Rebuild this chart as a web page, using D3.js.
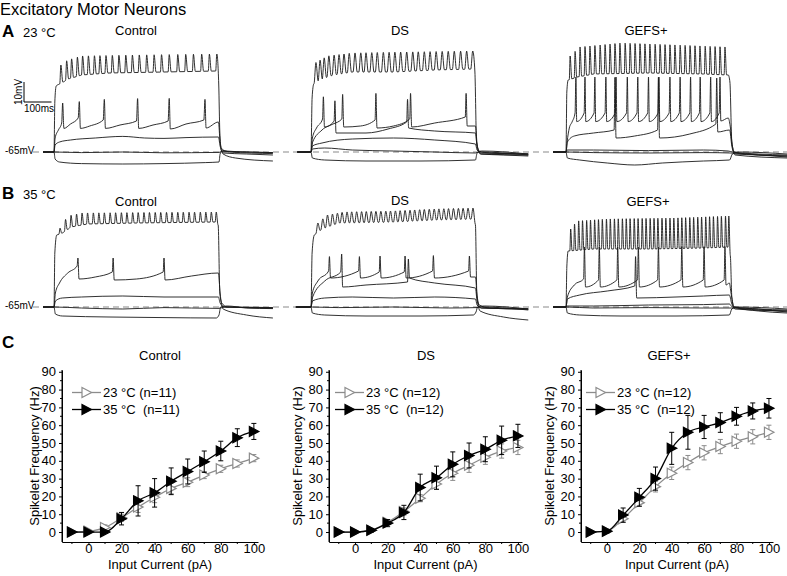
<!DOCTYPE html>
<html><head><meta charset="utf-8">
<script src="https://cdn.jsdelivr.net/npm/d3@7"></script>
<style>
body{margin:0;background:#fff}
svg{display:block}
text{font-family:"Liberation Sans",Arimo,Helvetica,sans-serif;fill:#000}
</style>
</head><body>
<svg id="fig" width="787" height="576"></svg>
<script>
// ================= DATA =================
// Panel C: input current (pA) vs spikelet frequency (Hz)
const currents = [-10,0,10,20,30,40,50,60,70,80,90,100];
const xTickLabels = [0,20,40,60,80,100];
const yTickLabels = [0,10,20,30,40,50,60,70,80,90];
const groupNames = ["Control","DS","GEFS+"];
const legend23 = ["23 °C (n=11)","23 °C (n=12)","23 °C (n=12)"];
const legend35 = ["35 °C\u00a0 (n=11)","35 °C\u00a0 (n=12)","35 °C\u00a0 (n=12)"];

const ctrl23    = [0,0.5,2.5,8,14,19.5,24.5,28,32,35.5,38.5,41.5];
const ctrl23Err = [0,0.8,1.5,2,3,3,3,2.5,2,2,2,2];
const ctrl35    = [0,0,0,7.5,17.5,22,28.5,34,39.5,45.5,53,56.5];
const ctrl35Err = [0,0.5,0.5,3.5,8.5,8,7.5,7,6,5.5,5,4.5];

const ds23    = [0,0,1,5.5,11.5,19,27,33,37.5,42,45.5,47.5];
const ds23Err = [0,0.5,1,1.5,2,2,3,4,4,4,4,4];
const ds35    = [0,0,1,5,11,25,30.5,38,43,46.5,51.5,54];
const ds35Err = [0,0.5,1,2,4,7.5,6.5,7,7,7,8,6.5];

const gefs23    = [0,0.5,7.5,16.5,25.5,33,39,44.5,48,51,53.5,56];
const gefs23Err = [0,1,2,2,3,3.5,4,4,4,4,4,4];
const gefs35    = [0,0.5,9.5,19.5,30,47,56,59,61.5,65,68,69.5];
const gefs35Err = [0,1,4,5,6.5,9,9.5,6.5,5.5,5,4.5,5.5];

// Panels A/B: membrane potential traces, time in ms from current onset, voltage in mV
// dense spike trains: spike times, peak envelope, trough envelope
const aCtrlTrain = {
  spikes:[25,46,64,85,104,125,147,167,189,212,236,261,285,310,337,364,391,419,450,479,507,537,565,592],
  peak:[[20,-22],[50,-19],[100,-17],[300,-16.5],[600,-16]],
  trough:[[-40,-65],[0,-65],[3,-40],[8,-32],[20,-31],[50,-28.5],[100,-26.5],[200,-25.5],[400,-25],[590,-24.5],[598,-25],[603,-55],[608,-63],[625,-64.5],[700,-65],[796,-65.3]],
  w:[4,7]};
const aCtrlTraces = [
  [[-40,-65],[0,-65],[4,-58],[16,-54],[28,-50.5],[31.5,-40.5],[36,-53.2],[60,-51],[88,-48],[92,-39.8],[96,-53.2],[130,-52],[179,-49],[183,-38.7],[187,-53.2],[240,-51.5],[300,-49.5],[304,-38.3],[308,-53.2],[360,-51.5],[415,-49.5],[419,-38.2],[423,-53.5],[480,-51],[545,-49],[549,-38.7],[553,-53],[598,-50],[604,-60],[615,-66],[660,-68],[796,-69.5]],
  [[-40,-65],[0,-65],[4,-61.5],[20,-60],[60,-59],[150,-58],[250,-57.2],[330,-58],[400,-58.2],[480,-57.8],[598,-57.5],[604,-62],[615,-65.5],[700,-66],[796,-66.5]],
  [[-40,-65],[0,-65],[100,-65.3],[250,-65],[400,-65.4],[600,-65.2],[610,-64.8],[700,-65],[796,-65.3]],
  [[-40,-65],[0,-65],[4,-68.5],[20,-70],[100,-70.8],[250,-71],[400,-70.8],[550,-70.3],[600,-70],[604,-66],[612,-64.2],[640,-65],[796,-65.8]]
];

const aDsTrain = {
  spikes:[18,33,48,65,84,102,120,139,160,181,200,221,241,263,284,305,326,348,370,390,412,433,455,477,499,521,544,566,588],
  peak:[[15,-20.5],[60,-17],[150,-15.5],[350,-15],[588,-14.5]],
  trough:[[-50,-65],[0,-65],[4,-38],[10,-31],[30,-29],[80,-26.5],[150,-25],[300,-25],[450,-24],[590,-23.5],[596,-25],[602,-60],[610,-64.5],[650,-65.5],[790,-66]],
  w:[7,8]};
const aDsTraces = [
  [[-50,-65],[0,-65],[5,-58],[20,-53],[42,-48.5],[45,-37.4],[49,-52.5],[80,-51],[112,-48.5],[115,-36.2],[119,-52.5],[180,-52],[233,-49],[236,-35.7],[240,-53],[300,-52],[359,-48.5],[362,-35.7],[366,-52.5],[450,-50.5],[561,-47.5],[564,-35.7],[568,-52],[598,-52],[604,-61],[615,-66],[700,-66.5],[790,-67]],
  [[-50,-65],[0,-65],[6,-60],[40,-54],[84,-49.5],[87,-39.4],[91,-55.5],[200,-55.5],[280,-53.5],[348,-50],[351,-38.7],[355,-53],[450,-54.5],[598,-55.5],[604,-62],[620,-66],[790,-66.5]],
  [[-50,-65],[0,-65],[5,-62],[40,-60.5],[150,-58.5],[300,-58],[450,-59],[598,-61],[604,-64],[620,-65.5],[790,-66]],
  [[-50,-65],[0,-65],[5,-63.5],[50,-63],[150,-64],[300,-64.5],[450,-65],[598,-65.5],[610,-65],[790,-66.5]],
  [[-50,-65],[0,-65],[5,-68],[50,-69],[200,-69.5],[400,-69.5],[598,-69],[604,-65.5],[620,-64.5],[790,-66]]
];

const aGefsTrain = {
  spikes:[15,33,51,69,87,105,124,142,160,178,196,215,233,251,269,287,305,324,342,360,378,396,415,433,451,469,487,506,524,542,560,578],
  peak:[[15,-17],[50,-12.5],[200,-10.5],[400,-11.5],[580,-12.5]],
  trough:[[-47,-65],[0,-65],[3,-35],[8,-29],[40,-27.5],[100,-26],[300,-25.5],[500,-26],[590,-26.5],[596,-30],[603,-60],[612,-65],[660,-66],[804,-67]],
  w:[3,6]};
const aGefsTraces = [
  [[-47,-65],[0,-65],[4,-60],[12,-53],[22,-50],[33,-45.5],[36,-27.5],[39,-49.8],
   [66,-45.5],[69,-27.5],[72,-49.8],[102,-45.5],[105,-27.5],[108,-49.8],[142,-45.5],[145,-27.5],[148,-49.8],
   [179,-45.5],[182,-27.5],[185,-49.8],[220,-45.5],[223,-27.5],[226,-49.8],[258,-45.5],[261,-27.5],[264,-49.8],
   [297,-45.5],[300,-27.5],[303,-49.8],[335,-45.5],[338,-27.5],[341,-49.8],[375,-45.5],[378,-27.5],[381,-49.8],
   [412,-45.5],[415,-27.5],[418,-49.8],[450,-45.5],[453,-27.5],[456,-49.8],[485,-45.5],[488,-27.5],[491,-49.8],
   [523,-45.5],[526,-27.5],[529,-49.8],[557,-45.5],[560,-27.5],[563,-49.5],[590,-48],[597,-52],[605,-62],[615,-66],[700,-66.5],[804,-67.5]],
  [[-47,-65],[0,-65],[5,-60],[30,-57],[100,-55.5],[175,-54],[178,-27.7],[182,-58],[250,-57],[333,-54],[336,-27.7],[340,-58],[450,-56],[545,-51],[548,-28],[552,-55],[595,-54],[603,-62],[615,-66.5],[804,-68]],
  [[-47,-65],[0,-65],[5,-64],[100,-64],[300,-64.3],[500,-64],[590,-64.5],[605,-65],[700,-66],[804,-66.5]],
  [[-47,-65],[0,-65],[100,-65.3],[300,-65.5],[500,-65.3],[600,-65.5],[700,-66.5],[804,-67]],
  [[-47,-65],[0,-65],[5,-68],[50,-69],[150,-70.5],[250,-71.5],[350,-70.5],[500,-69.5],[595,-69],[605,-66],[630,-65],[804,-66]]
];

const bCtrlTrain = {
  spikes:[22,42,62,82,102,122,143,163,183,204,224,245,265,286,306,327,347,368,388,409,429,450,470,491,511,532,552,572,590],
  peak:[[20,-26],[50,-19.5],[100,-18],[600,-17.5]],
  trough:[[-40,-65],[0,-65],[3,-38],[10,-29],[30,-28],[60,-25],[120,-23.5],[300,-23],[590,-22.5],[597,-24],[603,-58],[610,-63],[630,-65],[796,-65.5]],
  w:[4,6]};
const bCtrlTraces = [
  [[-40,-65],[0,-65],[5,-58],[20,-53],[50,-48],[84,-44.5],[87,-40.5],[91,-51],[150,-50],[212,-47.5],[215,-40.5],[219,-51.5],[300,-51],[397,-47.5],[400,-40.5],[404,-51.5],[500,-49.5],[598,-48],[604,-58],[615,-66],[700,-69],[796,-70.5]],
  [[-40,-65],[0,-65],[5,-62],[30,-60.5],[100,-60],[250,-59.5],[400,-60],[598,-60],[604,-63],[620,-65],[796,-65.5]],
  [[-40,-65],[0,-65],[100,-65.5],[250,-66],[400,-65.3],[600,-65.7],[620,-65],[796,-65.3]],
  [[-40,-65],[0,-65],[5,-68.5],[30,-69.5],[200,-70],[400,-70.3],[590,-70.5],[600,-69],[606,-65],[630,-64.5],[700,-65.5],[796,-65.8]]
];

const bDsTrain = {
  spikes:[25,43,60,78,96,113,131,148,166,184,201,219,236,254,272,289,307,324,342,360,377,395,412,430,448,465,483,500,518,536,553,571,589],
  peak:[[25,-23],[60,-19],[120,-17.5],[300,-17],[450,-16],[589,-15.5]],
  trough:[[-55,-65],[0,-65],[4,-38],[12,-29],[40,-26],[100,-23],[300,-22.5],[450,-21.5],[592,-21],[598,-24],[603,-58],[612,-64],[650,-65.5],[790,-66]],
  w:[7,8]};
const bDsTraces = [
  [[-55,-65],[0,-65],[5,-58],[25,-52],[64,-47],[67,-39.8],[71,-50.5],[173,-47],[176,-39.8],[180,-50.5],[248,-47.5],[251,-39.5],[255,-50.5],[339,-47.5],[342,-39.5],[346,-50.5],[442,-47],[445,-39.3],[449,-50.5],[573,-47],[576,-39.5],[580,-50],[598,-50],[604,-60],[615,-67],[700,-70],[790,-71.5]],
  [[-55,-65],[0,-65],[6,-60],[50,-52],[108,-47.5],[111.5,-38.5],[115,-55],[200,-54],[351,-52.5],[354,-41],[358,-50.5],[450,-53],[598,-55.5],[604,-62],[620,-65.5],[790,-66]],
  [[-55,-65],[0,-65],[5,-62],[50,-60.5],[150,-60],[300,-60.5],[450,-60],[598,-61],[604,-64],[620,-65.5],[790,-66]],
  [[-55,-65],[0,-65],[100,-65.3],[300,-65],[500,-65.5],[600,-65.3],[620,-65],[790,-66.5]],
  [[-55,-65],[0,-65],[5,-68],[50,-69],[200,-69.5],[400,-69.5],[590,-69],[600,-67.5],[606,-65],[630,-64.5],[790,-66]]
];

const bGefsTrain = {
  spikes:[17,31,46,60,75,89,104,118,132,147,161,176,190,205,219,233,248,262,277,291,306,320,334,349,363,378,392,407,421,435,450,464,479,493,508,522,536,551,565,580,592],
  peak:[[17,-26],[40,-22],[150,-21],[400,-20.5],[592,-19.5]],
  trough:[[-47,-65],[0,-65],[3,-45],[8,-37],[100,-36],[300,-36],[500,-35.5],[594,-35],[598,-40],[603,-60],[612,-65],[700,-66],[804,-67.5]],
  w:[3,5]};
const bGefsTraces = [
  [[-47,-65],[0,-65],[5,-60],[30,-54],[64,-51],[67,-35],[71,-55],[118,-51.5],[121,-35],[125,-55],[185,-51.5],[188,-35],[192,-55],[260,-51.5],[263,-35],[267,-55],[333,-51.5],[336,-35],[340,-55],[418,-51.5],[421,-34.8],[425,-55],[499,-51.5],[502,-34.8],[506,-55],[575,-51.5],[578,-34.8],[582,-54],[594,-53],[600,-58],[610,-65],[700,-67],[804,-68]],
  [[-47,-65],[0,-65],[5,-61],[50,-59],[150,-57],[250,-54.5],[253,-39.8],[257,-60.5],[400,-60],[500,-59.5],[594,-59],[602,-63],[615,-66],[804,-67]],
  [[-47,-65],[0,-65],[5,-64.5],[100,-64.5],[300,-64],[500,-63.8],[594,-63.5],[605,-65],[700,-66],[804,-66.5]],
  [[-47,-65],[0,-65],[100,-65.5],[300,-65.3],[500,-65.5],[600,-65.5],[700,-66.5],[804,-67]],
  [[-47,-65],[0,-65],[5,-68],[50,-69],[200,-69.5],[400,-69.5],[594,-69],[603,-66],[620,-65],[804,-66]]
];

// ================= DRAWING =================
const svg = d3.select("#fig");
const FONT = '"Liberation Sans",Arimo,Helvetica,sans-serif';

function txt(x,y,s,size,opts={}){
  const t = svg.append("text").attr("x",x).attr("y",y).attr("font-size",size)
    .attr("font-family",FONT).text(s);
  if(opts.anchor) t.attr("text-anchor",opts.anchor);
  if(opts.bold) t.attr("font-weight","bold");
  return t;
}

txt(0,15,"Excitatory Motor Neurons",16.5);
txt(2,37,"A",17,{bold:true});
txt(23,37,"23 °C",13);
txt(2,199,"B",17,{bold:true});
txt(23,199,"35 °C",13);
txt(2,348,"C",17,{bold:true});

const traceRows = [
  {base:152, label:"-65mV", labelY:154, titleY:[35,35,35],
   panels:[{onset:54,train:aCtrlTrain,traces:aCtrlTraces,title:groupNames[0],tx:136},
           {onset:311,train:aDsTrain,traces:aDsTraces,title:groupNames[1],tx:400},
           {onset:566,train:aGefsTrain,traces:aGefsTraces,title:groupNames[2],tx:646}]},
  {base:307, label:"-65mV", labelY:309, titleY:[206,205,206],
   panels:[{onset:54,train:bCtrlTrain,traces:bCtrlTraces,title:groupNames[0],tx:136},
           {onset:311,train:bDsTrain,traces:bDsTraces,title:groupNames[1],tx:400},
           {onset:566,train:bGefsTrain,traces:bGefsTraces,title:groupNames[2],tx:648}]}
];
const MS_PX = 0.275, MV_PX = 2;

function trainPoints(tr){
  const pk = d3.scaleLinear().domain(tr.peak.map(d=>d[0])).range(tr.peak.map(d=>d[1])).clamp(true);
  const tg = d3.scaleLinear().domain(tr.trough.map(d=>d[0])).range(tr.trough.map(d=>d[1]));
  const [w1,w2] = tr.w;
  const pts = tr.trough.filter(p => !tr.spikes.some(s => p[0] > s-w1 && p[0] < s+w2)).map(p=>p.slice());
  tr.spikes.forEach(s => { pts.push([s-w1, tg(s-w1)],[s, pk(s)],[s+w2, tg(s+w2)]); });
  pts.sort((a,b)=>a[0]-b[0]);
  return pts;
}

traceRows.forEach((row,ri)=>{
  svg.append("line").attr("x1",33).attr("x2",787).attr("y1",row.base).attr("y2",row.base)
     .attr("stroke","#8a8a8a").attr("stroke-width",1.2).attr("stroke-dasharray","6,4");
  txt(5,row.labelY,row.label,10);
  row.panels.forEach((p,pi)=>{
    const x = d3.scaleLinear().domain([0,600]).range([p.onset, p.onset+600*MS_PX]);
    const y = d3.scaleLinear().domain([-65,-15]).range([row.base, row.base-50*MV_PX]);
    const line = d3.line().x(d=>x(d[0])).y(d=>y(d[1])).curve(d3.curveMonotoneX);
    const g = svg.append("g");
    p.traces.forEach(tr=>{
      g.append("path").attr("d",line(tr)).attr("fill","none").attr("stroke","#1a1a1a").attr("stroke-width",0.9);
    });
    g.append("path").attr("d",line(trainPoints(p.train))).attr("fill","none").attr("stroke","#1a1a1a").attr("stroke-width",0.9);
    txt(p.tx,row.titleY[pi],p.title,13,{anchor:"middle"});
    if(ri===0 && pi===0){
      const sx = 24, sy = 102;
      svg.append("path").attr("d",`M${sx},${sy-10*MV_PX}V${sy}H${sx+100*MS_PX}`)
        .attr("fill","none").attr("stroke","#000").attr("stroke-width",1);
      svg.append("text").attr("transform",`translate(22,${sy-10})rotate(-90)`).attr("text-anchor","middle")
        .attr("font-size",10).attr("font-family",FONT).text("10mV");
      txt(24,112,"100ms",10);
    }
  });
});

// ---------- Panel C ----------
const charts = [
  {left:62, width:196, tx:160, ylx:39, s23:ctrl23, e23:ctrl23Err, s35:ctrl35, e35:ctrl35Err},
  {left:329,width:193, tx:426, ylx:302, s23:ds23, e23:ds23Err, s35:ds35, e35:ds35Err},
  {left:581,width:192, tx:669, ylx:554, s23:gefs23, e23:gefs23Err, s35:gefs35, e35:gefs35Err}
];
const GREY = "#8c8c8c";
const tri = "M-4.5,-5L5,0L-4.5,5Z";

charts.forEach((c,ci)=>{
  const x = d3.scaleLinear().domain([-16,102.5]).range([c.left, c.left+c.width]);
  const y = d3.scaleLinear().domain([-5.6,91]).range([542,370]);
  const g = svg.append("g");
  const ya = d3.axisLeft(y).tickValues(yTickLabels).tickSize(3).tickPadding(3).tickSizeOuter(0);
  const yg = g.append("g").attr("transform",`translate(${c.left},0)`).call(ya);
  const xa = d3.axisBottom(x).tickValues(xTickLabels).tickSize(3).tickPadding(0).tickSizeOuter(0);
  const xg = g.append("g").attr("transform",`translate(0,542)`).call(xa);
  [yg,xg].forEach(a=>{
    a.selectAll("text").attr("font-size",13).attr("font-family",FONT).attr("fill","#000");
    a.select(".domain").attr("stroke","#000");
    a.selectAll(".tick line").attr("stroke","#000");
  });
  xg.selectAll("text").attr("dy","0.6em");
  g.append("line").attr("x1",c.left).attr("x2",c.left).attr("y1",y(91)).attr("y2",542).attr("stroke","#000");
  d3.range(5,95,10).forEach(v=>{
    g.append("line").attr("x1",c.left).attr("x2",c.left-2).attr("y1",y(v)).attr("y2",y(v)).attr("stroke","#000");
  });
  [-10,10,30,50,70,90].forEach(v=>{
    g.append("line").attr("x1",x(v)).attr("x2",x(v)).attr("y1",542).attr("y2",544).attr("stroke","#000");
  });
  txt(c.tx,360,groupNames[ci],13,{anchor:"middle"});
  txt(c.left+c.width/2,569,"Input Current (pA)",13,{anchor:"middle"});
  svg.append("text").attr("transform",`translate(${c.ylx},456)rotate(-90)`).attr("text-anchor","middle")
     .attr("font-size",13).attr("font-family",FONT).text("Spikelet Frequency (Hz)");

  const lineGen = d3.line().x((d,i)=>x(currents[i])).y(d=>y(d)).curve(d3.curveMonotoneX);
  const series = [
    {vals:c.s23, err:c.e23, color:GREY, fill:"#fff"},
    {vals:c.s35, err:c.e35, color:"#000", fill:"#000"}
  ];
  series.forEach(s=>{
    g.append("path").attr("d",lineGen(s.vals)).attr("fill","none").attr("stroke",s.color).attr("stroke-width",1.3);
    s.vals.forEach((v,i)=>{
      const e = s.err[i];
      if(e>0.6){
        const xx = x(currents[i]);
        g.append("path").attr("d",`M${xx},${y(v-e)}V${y(v+e)}M${xx-2.5},${y(v+e)}H${xx+2.5}M${xx-2.5},${y(v-e)}H${xx+2.5}`)
          .attr("stroke",s.color).attr("stroke-width",1).attr("fill","none");
      }
    });
    s.vals.forEach((v,i)=>{
      g.append("path").attr("d",tri).attr("transform",`translate(${x(currents[i])},${y(v)})`)
        .attr("fill",s.fill).attr("stroke",s.color).attr("stroke-width",1.2);
    });
  });
  const lx0 = c.left + (ci===0?10:ci===1?6:5), lx1 = lx0 + 29;
  [[legend23[ci],GREY,"#fff",392.5],[legend35[ci],"#000","#000",409.5]].forEach(([lab,col,fill,ly])=>{
    g.append("line").attr("x1",lx0).attr("x2",lx1).attr("y1",ly).attr("y2",ly).attr("stroke",col).attr("stroke-width",1.3);
    g.append("path").attr("d",tri).attr("transform",`translate(${(lx0+lx1)/2},${ly})`)
      .attr("fill",fill).attr("stroke",col).attr("stroke-width",1.2);
    txt(lx1+2,ly+4.5,lab,13);
  });
});
</script>
</body></html>
